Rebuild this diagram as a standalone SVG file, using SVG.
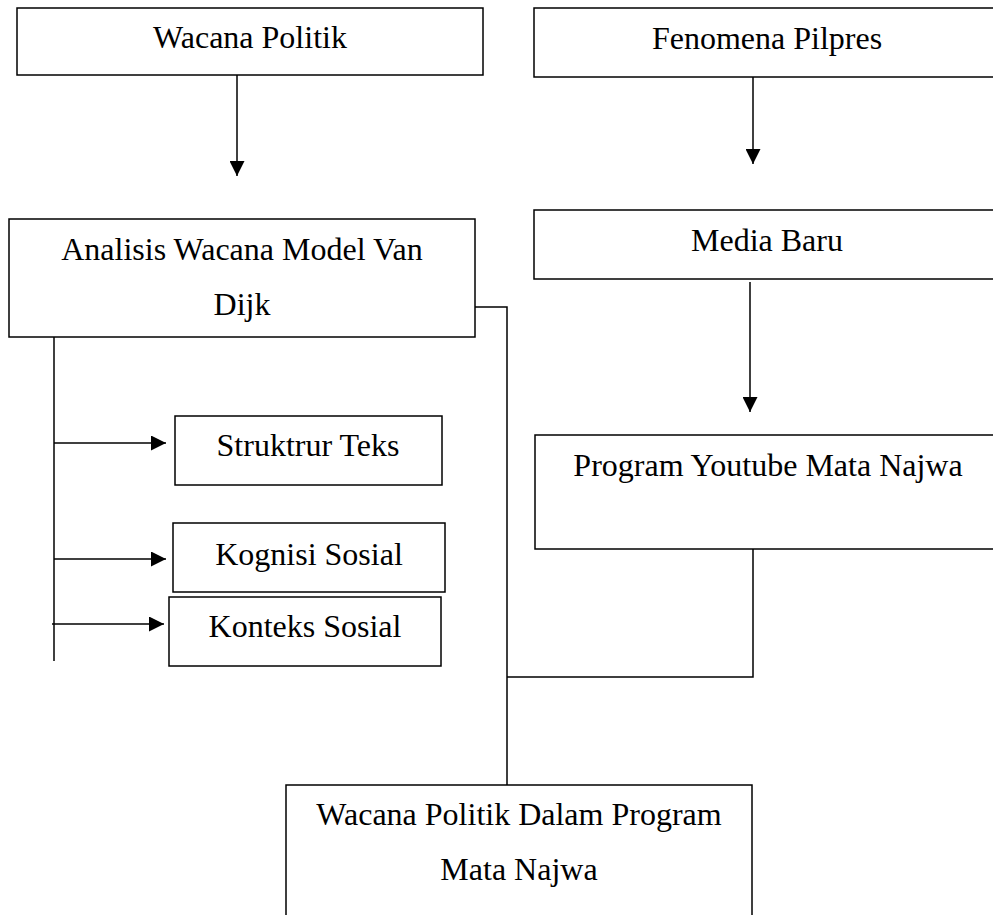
<svg xmlns="http://www.w3.org/2000/svg" width="993" height="915" viewBox="0 0 993 915">
<style>
.box{fill:#fff;stroke:#000;stroke-width:1.5}
.t{font-family:"Liberation Serif","Times New Roman",serif;font-size:32px;fill:#000;text-anchor:middle}
.ln{fill:none;stroke:#000;stroke-width:1.5}
</style>
<defs>
<marker id="ah" markerWidth="15" markerHeight="15" refX="15" refY="7.5" orient="auto" markerUnits="userSpaceOnUse">
<path d="M0,0 L15,7.5 L0,15 Z" fill="#000"/>
</marker>
</defs>
<rect width="993" height="915" fill="#fff"/>
<g id="connectors">
<line class="ln" x1="237" y1="75" x2="237" y2="176" marker-end="url(#ah)"/>
<line class="ln" x1="753" y1="77" x2="753" y2="164" marker-end="url(#ah)"/>
<line class="ln" x1="750" y1="282" x2="750" y2="412" marker-end="url(#ah)"/>
<line class="ln" x1="54" y1="337" x2="54" y2="661"/>
<line class="ln" x1="54" y1="443" x2="166" y2="443" marker-end="url(#ah)"/>
<line class="ln" x1="54" y1="559" x2="166" y2="559" marker-end="url(#ah)"/>
<line class="ln" x1="52" y1="624" x2="164" y2="624" marker-end="url(#ah)"/>
<polyline class="ln" points="475,307 507,307 507,785"/>
<polyline class="ln" points="753,549 753,677 507,677"/>
</g>
<g id="wacana-politik">
<rect class="box" x="17" y="8" width="466" height="67"/>
<text class="t" x="250" y="48">Wacana Politik</text>
</g>
<g id="fenomena-pilpres">
<rect class="box" x="534" y="8" width="470" height="69"/>
<text class="t" x="767" y="49">Fenomena Pilpres</text>
</g>
<g id="analisis">
<rect class="box" x="9" y="219" width="466" height="118"/>
<text class="t" x="242" y="260">Analisis Wacana Model Van</text>
<text class="t" x="242" y="315">Dijk</text>
</g>
<g id="media-baru">
<rect class="box" x="534" y="210" width="470" height="69"/>
<text class="t" x="767" y="251">Media Baru</text>
</g>
<g id="struktur-teks">
<rect class="box" x="175" y="416" width="267" height="69"/>
<text class="t" x="308" y="456">Struktrur Teks</text>
</g>
<g id="kognisi-sosial">
<rect class="box" x="173" y="523" width="272" height="69"/>
<text class="t" x="309" y="565">Kognisi Sosial</text>
</g>
<g id="konteks-sosial">
<rect class="box" x="169" y="597" width="272" height="69"/>
<text class="t" x="305" y="637">Konteks Sosial</text>
</g>
<g id="program-youtube">
<rect class="box" x="535" y="435" width="470" height="114"/>
<text class="t" x="768" y="476">Program Youtube Mata Najwa</text>
</g>
<g id="wacana-mata-najwa">
<rect class="box" x="286" y="785" width="466" height="140"/>
<text class="t" x="519" y="825">Wacana Politik Dalam Program</text>
<text class="t" x="519" y="880">Mata Najwa</text>
</g>
</svg>
